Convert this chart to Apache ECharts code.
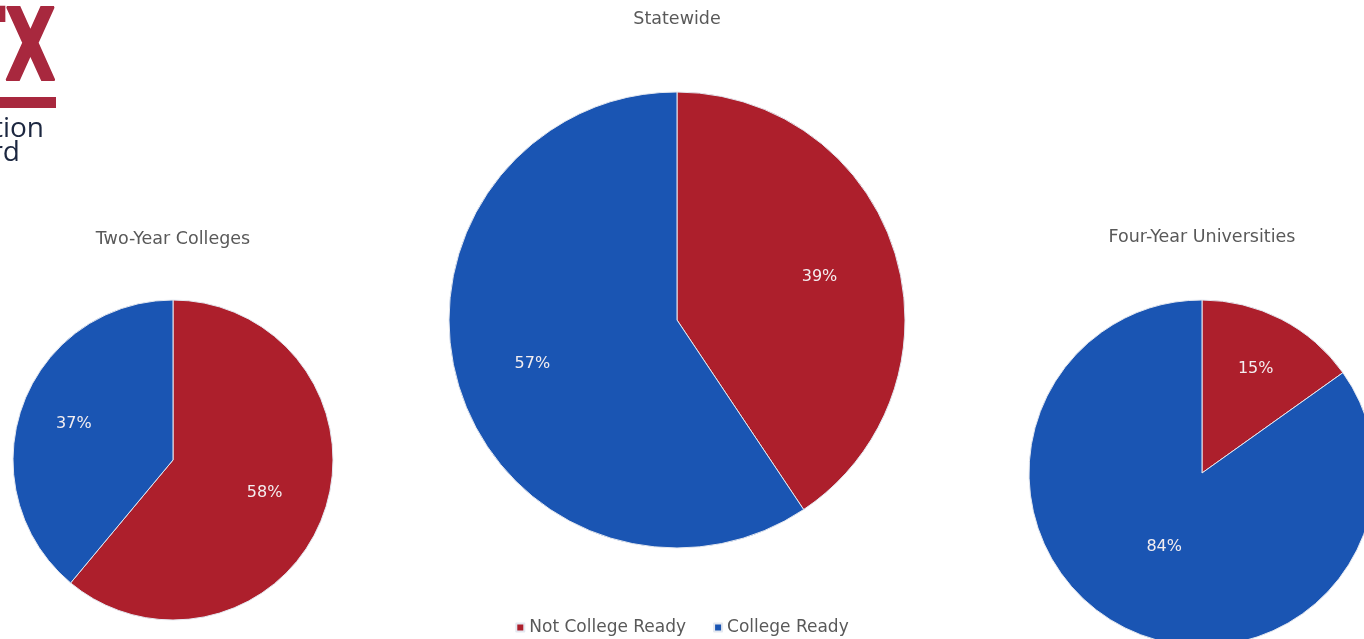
<!DOCTYPE html>
<html><head><meta charset="utf-8">
<script src="https://cdn.jsdelivr.net/npm/echarts@6/dist/echarts.min.js"></script>
<style>html,body{margin:0;padding:0;background:#fff}#c{width:1364px;height:639px}</style>
</head><body><div id="c"></div>
<script>
const categories = ['Not College Ready', 'College Ready'];
const pieTitles = ['Two-Year Colleges', 'Statewide', 'Four-Year Universities'];
const twoYear = [58, 37];
const statewide = [39, 57];
const fourYear = [15, 84];
const colors = ['#ad1f2c', '#1a55b3'];

const FONT = '"DejaVu Sans", "Open Sans", sans-serif';
const pies = [
  { title: pieTitles[0], values: twoYear, cx: 173, cy: 460, r: 160, ty: 225, labelR: [[0.18, 1], [0.28, 1]] },
  { title: pieTitles[1], values: statewide, cx: 677, cy: 320, r: 228, ty: 5, labelR: [[0.28, 1], [0.3, 1]] },
  { title: pieTitles[2], values: fourYear, cx: 1202, cy: 473, r: 173, ty: 223, labelR: [[0.32, 1], [0, 0.92]] }
];

const series = [];
const titles = [];
pies.forEach(p => {
  titles.push({
    text: p.title, left: p.cx - 5, top: p.ty, textAlign: 'center',
    textStyle: { color: '#595959', fontSize: 17.5, fontWeight: 'normal', fontFamily: FONT }
  });
  series.push({
    type: 'pie', center: [p.cx, p.cy], radius: [0, p.r], startAngle: 90, clockwise: true,
    label: { show: false }, labelLine: { show: false }, silent: true, animation: false,
    itemStyle: { borderColor: '#e4e8f0', borderWidth: 1 },
    data: categories.map((n, i) => ({ name: n, value: p.values[i], itemStyle: { color: colors[i] } }))
  });
  // label-only overlay rings (transparent) for label placement per slice
  categories.forEach((n, k) => {
    series.push({
      type: 'pie', center: [p.cx, p.cy], radius: [p.r * p.labelR[k][0], p.r * p.labelR[k][1]],
      startAngle: 90, clockwise: true, silent: true, animation: false,
      itemStyle: { color: 'rgba(0,0,0,0)' }, labelLine: { show: false },
      label: { show: false },
      data: categories.map((nm, i) => ({
        name: nm, value: p.values[i],
        itemStyle: { color: 'rgba(0,0,0,0)' },
        label: { show: i === k, position: 'inside', formatter: v => v.value + '%', color: '#f4eef0', fontSize: 16, fontFamily: FONT }
      }))
    });
  });
});

const chart = echarts.init(document.getElementById('c'), null, { renderer: 'canvas' });
chart.setOption({
  backgroundColor: '#ffffff',
  animation: false,
  title: titles,
  legend: {
    left: 'center', top: 614, icon: 'rect', itemWidth: 8, itemHeight: 8, itemGap: 27,
    textStyle: { color: '#595959', fontSize: 17, fontFamily: FONT },
    data: categories.map((n, i) => ({ name: n, itemStyle: { color: colors[i] } })),
    selectedMode: false
  },
  graphic: [
    { type: 'text', x: 56, y: 4, scaleX: 0.66, style: { text: 'TX', x: 0, y: 0, align: 'right', verticalAlign: 'top', fill: '#a8283e',
      stroke: '#a8283e', lineWidth: 2, font: 'bold 100px "DejaVu Sans", sans-serif' } },
    { type: 'rect', shape: { x: 0, y: 97, width: 56, height: 11 }, style: { fill: '#a8283e' } },
    { type: 'text', style: { text: 'Education', x: 44, y: 115, align: 'right', verticalAlign: 'top', fill: '#1c2740',
      font: '28px "Open Sans", sans-serif' } },
    { type: 'text', style: { text: 'Board', x: 20, y: 139, align: 'right', verticalAlign: 'top', fill: '#1c2740',
      font: '28px "Open Sans", sans-serif' } }
  ],
  series: series
});
</script></body></html>
